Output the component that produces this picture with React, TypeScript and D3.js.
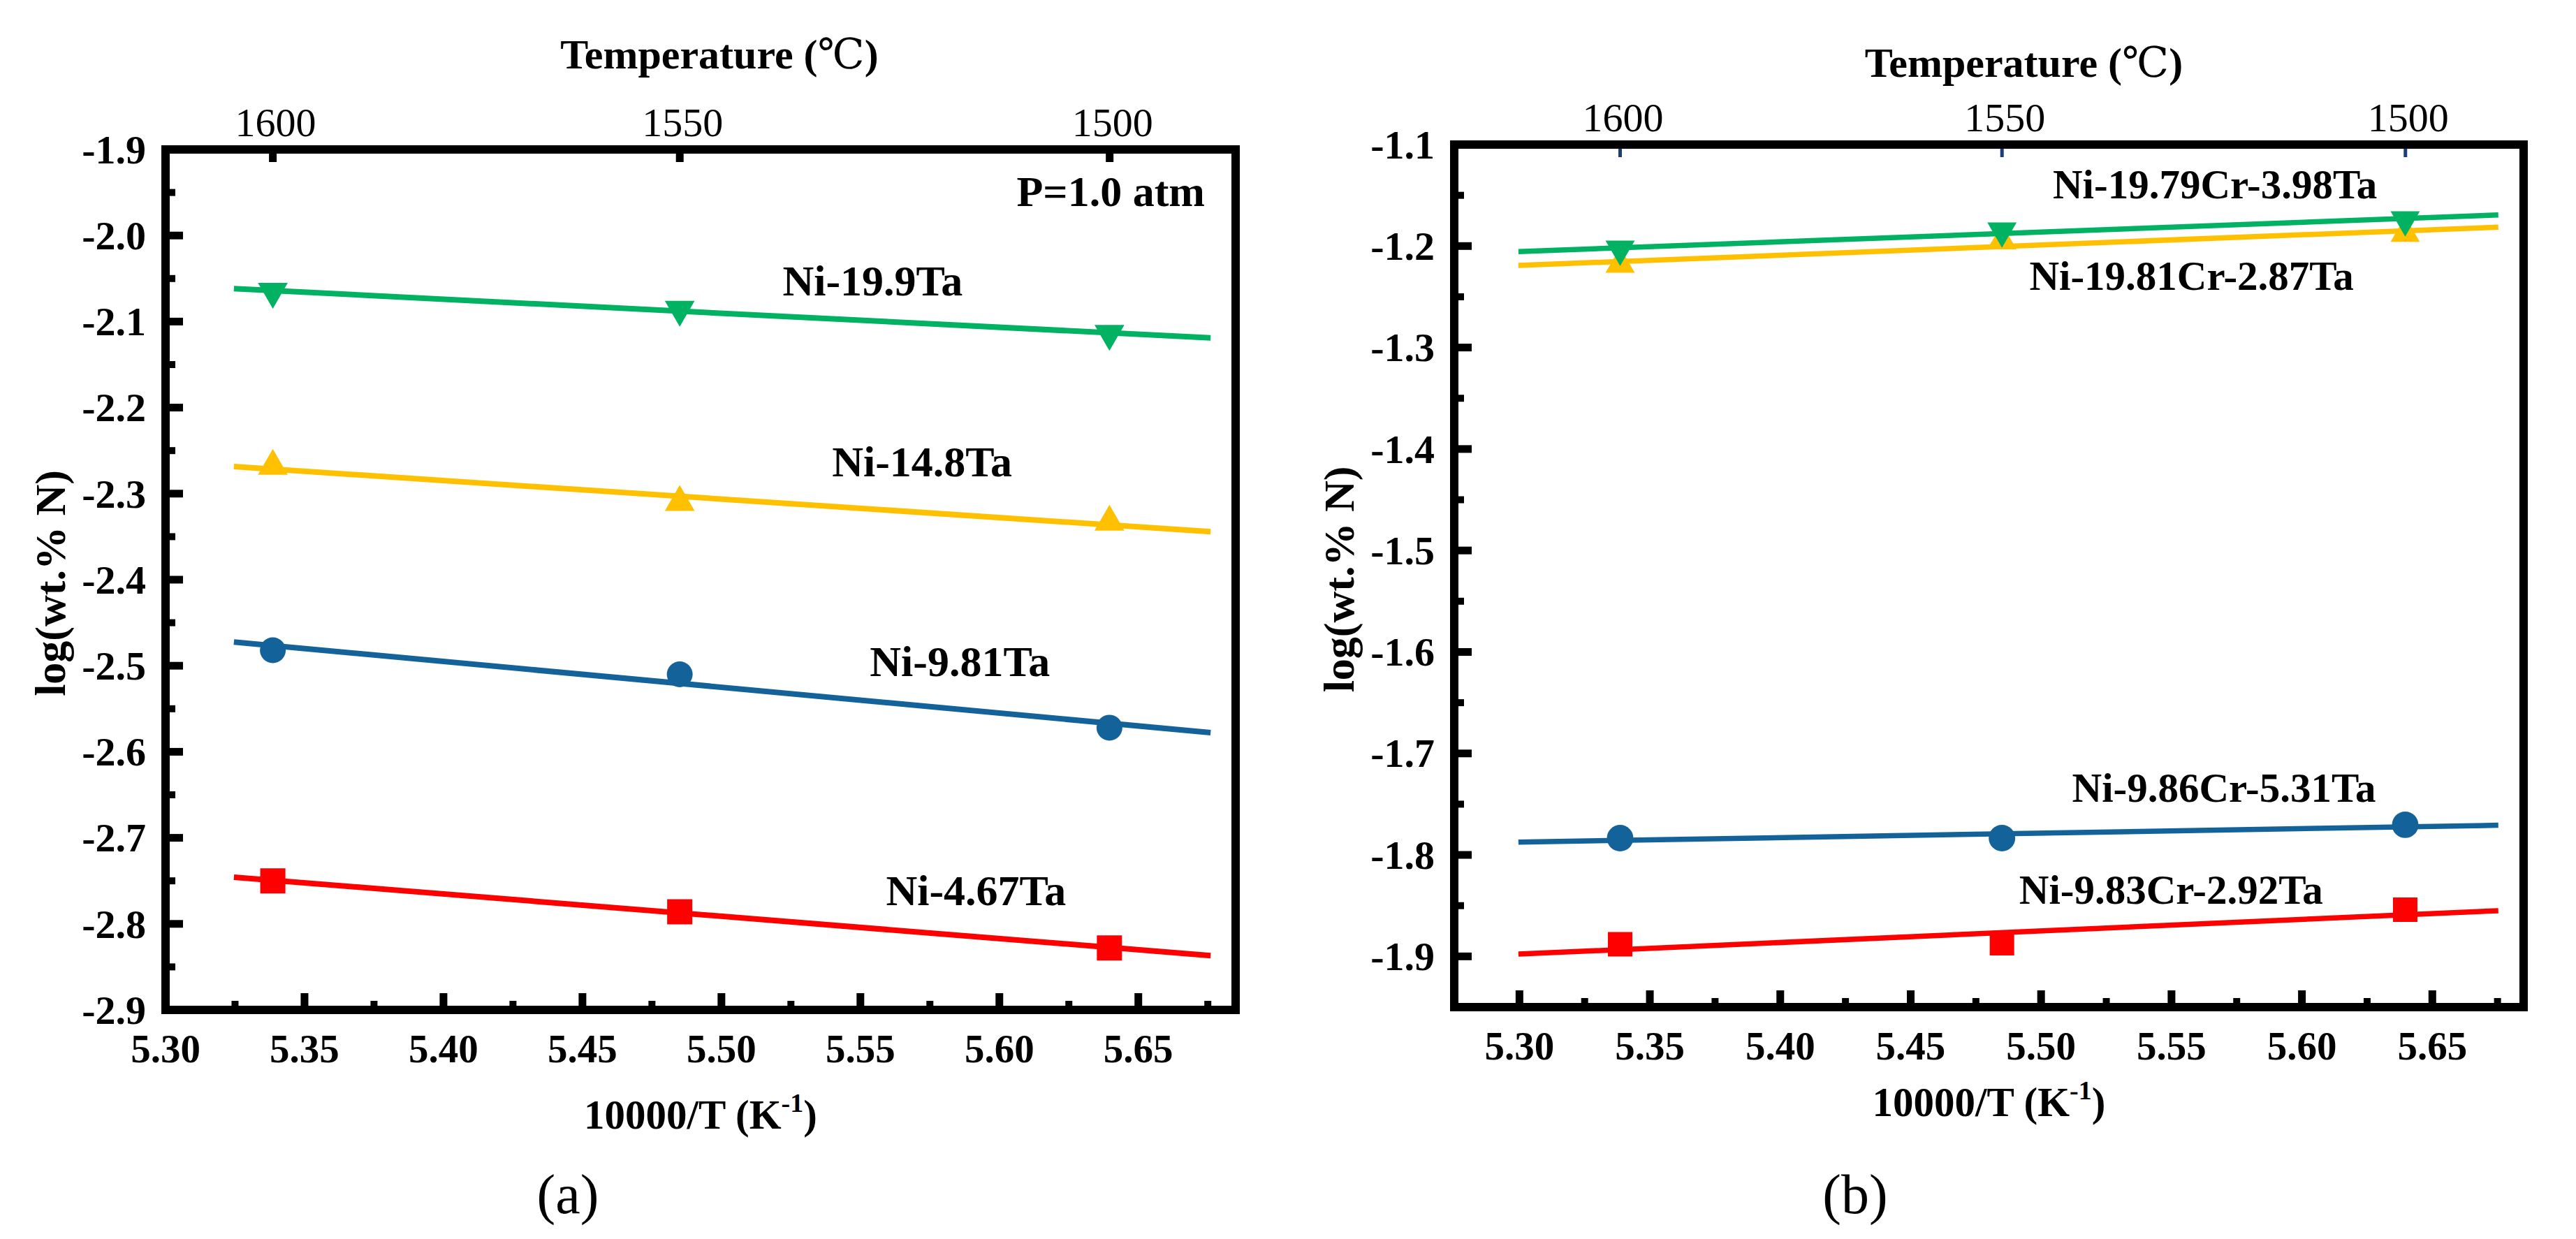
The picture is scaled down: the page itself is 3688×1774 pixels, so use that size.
import React from "react";
import * as d3 from "d3";

// x positions of the three melts, 10000/T with T in K
const invT = [5.3386, 5.485, 5.6396];
const tempTicks = [1600, 1550, 1500];

// panel (a): Ni-Ta binaries
const a467 = [-2.75, -2.786, -2.828];
const a981 = [-2.482, -2.51, -2.572];
const a148 = [-2.268, -2.31, -2.333];
const a199 = [-2.065, -2.086, -2.114];

// panel (b): Ni-Cr-Ta ternaries
const b983 = [-1.888, -1.887, -1.854];
const b986 = [-1.7835, -1.7834, -1.7703];
const b1981 = [-1.218, -1.195, -1.1876];
const b1979 = [-1.203, -1.185, -1.174];

const xTicks = [5.3, 5.35, 5.4, 5.45, 5.5, 5.55, 5.6, 5.65];
const xMinor = [5.325, 5.375, 5.425, 5.475, 5.525, 5.575, 5.625, 5.675];
const yTicksA = [-1.9, -2.0, -2.1, -2.2, -2.3, -2.4, -2.5, -2.6, -2.7, -2.8, -2.9];
const yMinorA = [-1.95, -2.05, -2.15, -2.25, -2.35, -2.45, -2.55, -2.65, -2.75, -2.85];
const yTicksB = [-1.1, -1.2, -1.3, -1.4, -1.5, -1.6, -1.7, -1.8, -1.9];
const yMinorB = [-1.15, -1.25, -1.35, -1.45, -1.55, -1.65, -1.75, -1.85];

const GREEN = "#00b262";
const ORANGE = "#ffc000";
const BLUE = "#14629a";
const RED = "#ff0000";
const FONT = "Liberation Serif, DejaVu Serif, serif";

type Series = { name: string; values: number[]; color: string; shape: string };

const seriesA: Series[] = [
  { name: "Ni-4.67Ta", values: a467, color: RED, shape: "square" },
  { name: "Ni-9.81Ta", values: a981, color: BLUE, shape: "circle" },
  { name: "Ni-14.8Ta", values: a148, color: ORANGE, shape: "up" },
  { name: "Ni-19.9Ta", values: a199, color: GREEN, shape: "down" },
];
const seriesB: Series[] = [
  { name: "Ni-9.83Cr-2.92Ta", values: b983, color: RED, shape: "square" },
  { name: "Ni-9.86Cr-5.31Ta", values: b986, color: BLUE, shape: "circle" },
  { name: "Ni-19.81Cr-2.87Ta", values: b1981, color: ORANGE, shape: "up" },
  { name: "Ni-19.79Cr-3.98Ta", values: b1979, color: GREEN, shape: "down" },
];

// label anchors in data units
const labelsA = [
  { text: "Ni-19.9Ta", x: 5.522, y: -2.0696 },
  { text: "Ni-14.8Ta", x: 5.5398, y: -2.28 },
  { text: "Ni-9.81Ta", x: 5.5534, y: -2.5117 },
  { text: "Ni-4.67Ta", x: 5.5592, y: -2.778 },
];
const labelsB = [
  { text: "Ni-19.79Cr-3.98Ta", x: 5.5045, y: -1.1533 },
  { text: "Ni-19.81Cr-2.87Ta", x: 5.4955, y: -1.243 },
  { text: "Ni-9.86Cr-5.31Ta", x: 5.5119, y: -1.7476 },
  { text: "Ni-9.83Cr-2.92Ta", x: 5.4916, y: -1.8478 },
];

function fit(xs: number[], ys: number[]) {
  const mx = d3.mean(xs)!;
  const my = d3.mean(ys)!;
  const sxy = d3.sum(xs, (x, i) => (x - mx) * (ys[i] - my));
  const sxx = d3.sum(xs, (x) => (x - mx) * (x - mx));
  const k = sxy / sxx;
  return (x: number) => my + k * (x - mx);
}

function markerPath(shape: string, size: number) {
  const type =
    shape === "square" ? d3.symbolSquare : shape === "circle" ? d3.symbolCircle : d3.symbolTriangle;
  return d3.symbol().type(type).size(size)()!;
}

type PanelProps = {
  frame: { l: number; t: number; r: number; b: number };
  xDomain: [number, number];
  yDomain: [number, number];
  yTicks: number[];
  yMinor: number[];
  series: Series[];
  labels: { text: string; x: number; y: number }[];
  fitRange: [number, number];
  topTickColor: string;
  topTickWidth: number;
  caption: string;
  captionX: number;
  sizes: { tri: number; circle: number; square: number; line: number; label: number };
  titleDx: number;
  titleY: number;
  xTitleY: number;
  extra?: JSX.Element;
};

const Panel = ({
  frame,
  xDomain,
  yDomain,
  yTicks,
  yMinor,
  series,
  labels,
  fitRange,
  topTickColor,
  topTickWidth,
  caption,
  captionX,
  sizes,
  titleDx,
  titleY,
  xTitleY,
  extra,
}: PanelProps) => {
  const x = d3.scaleLinear().domain(xDomain).range([frame.l, frame.r]);
  const y = d3.scaleLinear().domain(yDomain).range([frame.b, frame.t]);
  const cx = (frame.l + frame.r) / 2;
  const cy = (frame.t + frame.b) / 2;

  return (
    <g fontFamily={FONT}>
      {/* top temperature axis */}
      <text x={cx + titleDx} y={titleY} fontSize={60} fontWeight="bold" textAnchor="middle">
        Temperature (<tspan fontWeight="normal">℃</tspan>)
      </text>
      {tempTicks.map((t) => {
        const px = x(10000 / (t + 273.15));
        return (
          <g key={t}>
            <line x1={px} x2={px} y1={frame.t} y2={frame.t + 18} stroke={topTickColor} strokeWidth={topTickWidth} />
            <text x={px + 4} y={frame.t - 19} fontSize={58} textAnchor="middle">
              {t}
            </text>
          </g>
        );
      })}

      {/* left axis */}
      {yTicks.map((v) => (
        <g key={v}>
          <line x1={frame.l} x2={frame.l + 25} y1={y(v)} y2={y(v)} stroke="#000" strokeWidth={11} />
          <text x={frame.l - 28} y={y(v)} dy="0.34em" fontSize={58} fontWeight="bold" textAnchor="end">
            {v.toFixed(1)}
          </text>
        </g>
      ))}
      {yMinor.map((v) => (
        <line key={v} x1={frame.l} x2={frame.l + 14} y1={y(v)} y2={y(v)} stroke="#000" strokeWidth={10} />
      ))}
      <text
        transform={`translate(${frame.l - 144},${cy + 5}) rotate(-90)`}
        fontSize={62}
        fontWeight="bold"
        textAnchor="middle"
      >
        log(wt.% N)
      </text>

      {/* bottom axis */}
      {xTicks.map((v) => (
        <g key={v}>
          {x(v) > frame.l + 10 && (
            <line x1={x(v)} x2={x(v)} y1={frame.b} y2={frame.b - 24} stroke="#000" strokeWidth={11} />
          )}
          <text x={x(v)} y={frame.b + 75} fontSize={57} fontWeight="bold" textAnchor="middle">
            {v.toFixed(2)}
          </text>
        </g>
      ))}
      {xMinor.map((v) => (
        <line key={v} x1={x(v)} x2={x(v)} y1={frame.b} y2={frame.b - 13} stroke="#000" strokeWidth={10} />
      ))}
      <text x={cx} y={xTitleY} fontSize={59} fontWeight="bold" textAnchor="middle">
        10000/T (K
        <tspan fontSize={38} dy={-24}>
          -1
        </tspan>
        <tspan fontSize={59} dy={24}>
          )
        </tspan>
      </text>

      {/* series: fit lines and markers */}
      {series.map((s) => {
        const f = fit(invT, s.values);
        const d = d3
          .line<number>()
          .x((v) => x(v))
          .y((v) => y(f(v)))(fitRange)!;
        const size = s.shape === "square" ? sizes.square : s.shape === "circle" ? sizes.circle : sizes.tri;
        const path = markerPath(s.shape, size);
        return (
          <g key={s.name}>
            <path d={d} fill="none" stroke={s.color} strokeWidth={sizes.line} />
            {s.values.map((v, i) => (
              <path
                key={i}
                d={path}
                fill={s.color}
                transform={`translate(${x(invT[i])},${y(v)})${s.shape === "down" ? " rotate(180)" : ""}`}
              />
            ))}
          </g>
        );
      })}

      {labels.map((l) => (
        <text key={l.text} x={x(l.x)} y={y(l.y)} fontSize={sizes.label} fontWeight="bold">
          {l.text}
        </text>
      ))}
      {extra}

      {/* frame */}
      <rect
        x={frame.l}
        y={frame.t}
        width={frame.r - frame.l}
        height={frame.b - frame.t}
        fill="none"
        stroke="#000"
        strokeWidth={12}
      />

      <text x={captionX} y={1737} fontSize={80} textAnchor="middle">
        {caption}
      </text>
    </g>
  );
};

export default function App() {
  return (
    <svg
      width={3688}
      height={1774}
      style={{ position: "absolute", left: 0, top: 0, background: "#fff" }}
    >
      <rect width={3688} height={1774} fill="#fff" />
      <Panel
        frame={{ l: 237, t: 214, r: 1769, b: 1446 }}
        xDomain={[5.3, 5.685]}
        yDomain={[-2.9, -1.9]}
        yTicks={yTicksA}
        yMinor={yMinorA}
        series={seriesA}
        labels={labelsA}
        fitRange={[5.3246, 5.676]}
        topTickColor="#000"
        topTickWidth={11}
        caption="(a)"
        captionX={813}
        sizes={{ tri: 790, circle: 1075, square: 1296, line: 8, label: 62 }}
        titleDx={27}
        titleY={98}
        xTitleY={1616}
        extra={
          <text x={1725} y={295} fontSize={62} fontWeight="bold" textAnchor="end" fontFamily={FONT}>
            P=1.0 atm
          </text>
        }
      />
      <Panel
        frame={{ l: 2082, t: 207, r: 3613, b: 1442 }}
        xDomain={[5.275, 5.685]}
        yDomain={[-1.95, -1.1]}
        yTicks={yTicksB}
        yMinor={yMinorB}
        series={seriesB}
        labels={labelsB}
        fitRange={[5.2996, 5.6753]}
        topTickColor="#1a3f78"
        topTickWidth={5}
        caption="(b)"
        captionX={2656}
        sizes={{ tri: 760, circle: 1130, square: 1225, line: 7.5, label: 59 }}
        titleDx={50}
        titleY={110}
        xTitleY={1598}
      />
    </svg>
  );
}
